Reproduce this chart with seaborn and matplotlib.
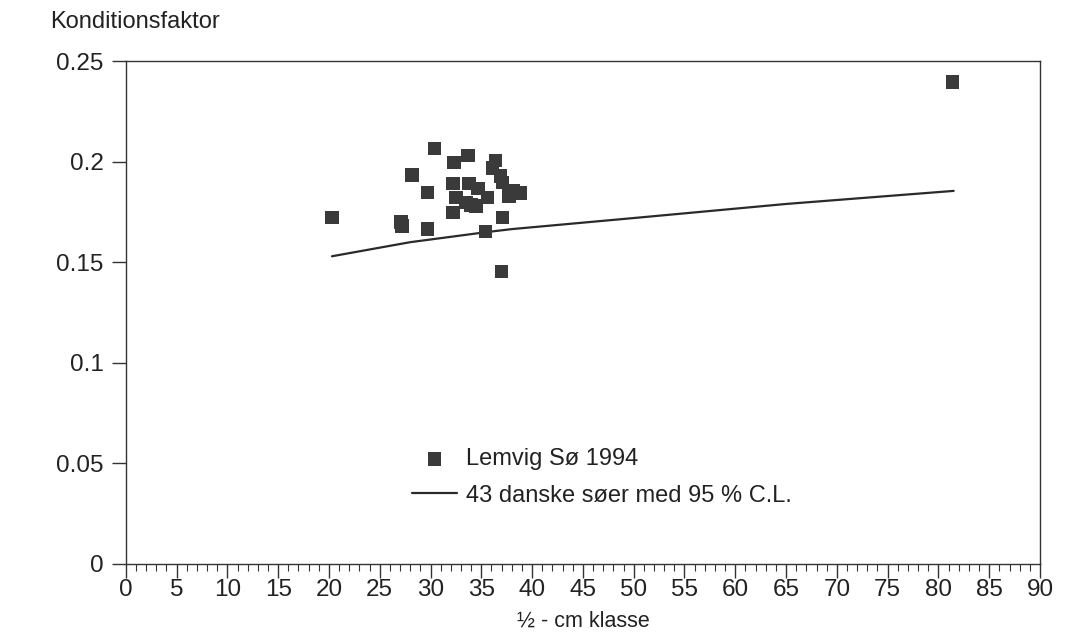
import matplotlib
matplotlib.use("Agg")
import matplotlib.pyplot as plt
from matplotlib.ticker import MultipleLocator, FixedLocator, FixedFormatter
import seaborn as sns
import pandas as pd

# Data
lemvig_x = [20.3, 27.1, 27.2, 28.2, 29.7, 29.7, 30.4, 32.3, 32.2, 32.5, 32.2,
            33.7, 33.8, 34.7, 33.5, 34.0, 34.5, 35.6, 35.4, 36.4, 36.1, 36.9,
            37.1, 38.1, 37.7, 38.8, 37.1, 37.0, 81.4]
lemvig_y = [0.1723, 0.1700, 0.1680, 0.1935, 0.1847, 0.1665, 0.2065, 0.1996,
            0.1892, 0.1822, 0.1748, 0.2032, 0.1892, 0.1867, 0.1797, 0.1785,
            0.1780, 0.1822, 0.1652, 0.2007, 0.1970, 0.1930, 0.1896, 0.1855,
            0.1830, 0.1844, 0.1723, 0.1455, 0.2396]

ref_x = [20.3, 28.0, 35.5, 38.0, 50.0, 65.0, 81.5]
ref_y = [0.1530, 0.1600, 0.1650, 0.1665, 0.1720, 0.1790, 0.1855]

ytick_vals = [0, 0.05, 0.1, 0.15, 0.2, 0.25]
ytick_labels = ["0", "0.05", "0.1", "0.15", "0.2", "0.25"]
xtick_vals = list(range(0, 91, 5))

label_points = "Lemvig Sø 1994"
label_line = "43 danske søer med 95 % C.L."

sns.set_theme(style="white")
plt.rcParams['font.family'] = ['Liberation Sans', 'DejaVu Sans']

fig = plt.figure(figsize=(10.66, 6.37), dpi=100)
ax = fig.add_axes([0.118, 0.1146, 0.8576, 0.7894])

df_pts = pd.DataFrame({"x": lemvig_x, "y": lemvig_y})
df_line = pd.DataFrame({"x": ref_x, "y": ref_y})

sns.scatterplot(data=df_pts, x="x", y="y", ax=ax, marker="s", s=95,
                color="#3a3a3a", edgecolor="none", label=label_points, zorder=3)
sns.lineplot(data=df_line, x="x", y="y", ax=ax, color="#2a2a2a", linewidth=1.6,
             label=label_line, zorder=2)

ax.set_xlim(0, 90)
ax.set_ylim(0, 0.25)
ax.xaxis.set_major_locator(FixedLocator(xtick_vals))
ax.xaxis.set_minor_locator(MultipleLocator(1))
ax.yaxis.set_major_locator(FixedLocator(ytick_vals))
ax.yaxis.set_major_formatter(FixedFormatter(ytick_labels))

ax.tick_params(axis="x", which="major", direction="out", length=10, width=1,
               color="#333333", labelsize=17.5, pad=1, bottom=True,
               labelcolor="#222222")
ax.tick_params(axis="x", which="minor", direction="out", length=5, width=0.8,
               color="#333333", bottom=True)
ax.tick_params(axis="y", which="major", direction="out", length=10, width=1,
               color="#333333", labelsize=17.5, pad=6, left=True,
               labelcolor="#222222")

for sp in ax.spines.values():
    sp.set_visible(True)
    sp.set_color("#333333")
    sp.set_linewidth(1.0)

ax.set_xlabel("½ - cm klasse", fontsize=15.5, labelpad=7, color="#222222")
ax.set_ylabel("")
fig.text(0.047, 0.965, "Konditionsfaktor", fontsize=17, ha="left", va="center",
         color="#222222")

leg = ax.legend(loc="lower left", bbox_to_anchor=(0.29, 0.072), frameon=False,
                fontsize=17, handlelength=1.9, handletextpad=0.4,
                labelspacing=0.6, markerscale=1.0)
for t in leg.get_texts():
    t.set_color("#222222")

fig.savefig("out.png", dpi=100)
